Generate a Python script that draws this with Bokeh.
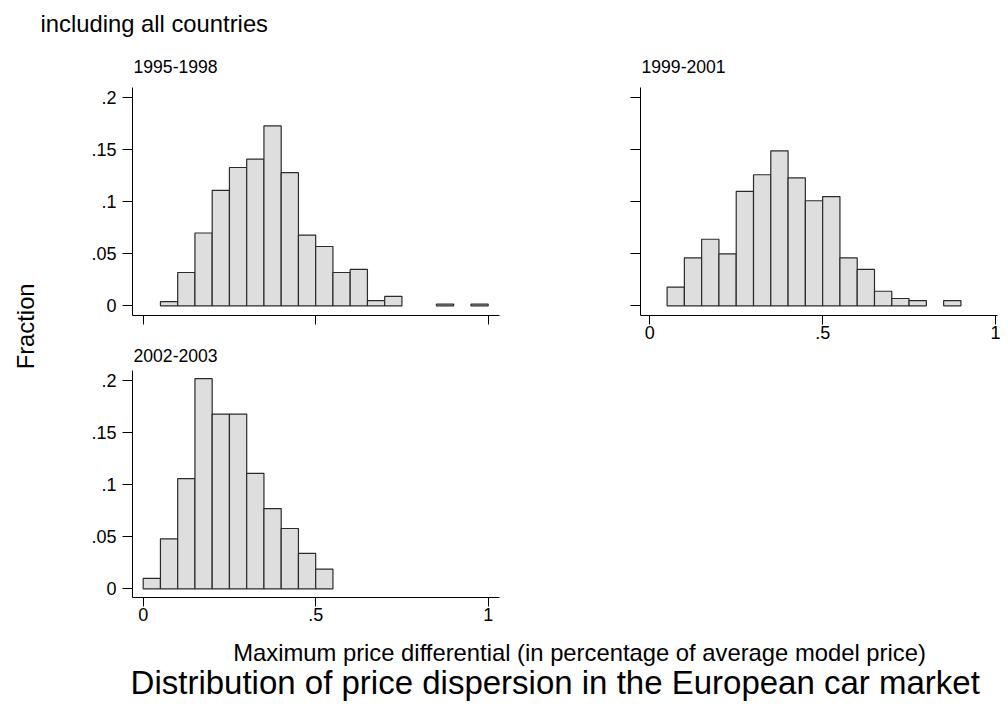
import math
from bokeh.plotting import figure
from bokeh.models import Range1d, FixedTicker, Label
from bokeh.layouts import row, column
from bokeh.embed import file_html
from bokeh.resources import INLINE

FONT = "Liberation Sans"

# ---------------- data ----------------
bin_width = 0.05

p1_title = "1995-1998"
p1_bin_start = [0.05, 0.10, 0.15, 0.20, 0.25, 0.30, 0.35, 0.40, 0.45, 0.50,
                0.55, 0.60, 0.65, 0.70, 0.75, 0.80, 0.85, 0.90, 0.95]
p1_fraction = [0.004, 0.032, 0.070, 0.111, 0.133, 0.141, 0.173, 0.128, 0.068, 0.057,
               0.032, 0.035, 0.005, 0.009, 0.0, 0.0, 0.0016, 0.0, 0.0016]

p2_title = "1999-2001"
p2_bin_start = [0.05, 0.10, 0.15, 0.20, 0.25, 0.30, 0.35, 0.40, 0.45, 0.50,
                0.55, 0.60, 0.65, 0.70, 0.75, 0.80, 0.85]
p2_fraction = [0.018, 0.046, 0.064, 0.050, 0.110, 0.126, 0.149, 0.123, 0.101, 0.105,
               0.046, 0.035, 0.014, 0.007, 0.005, 0.0, 0.005]

p3_title = "2002-2003"
p3_bin_start = [0.00, 0.05, 0.10, 0.15, 0.20, 0.25, 0.30, 0.35, 0.40, 0.45, 0.50]
p3_fraction = [0.010, 0.048, 0.106, 0.202, 0.168, 0.168, 0.111, 0.077, 0.058, 0.034, 0.019]

y_ticks = [0, 0.05, 0.1, 0.15, 0.2]
y_tick_labels = ["0", ".05", ".1", ".15", ".2"]
x_ticks = [0, 0.5, 1]
x_tick_labels = ["0", ".5", "1"]

subtitle = "including all countries"
y_title = "Fraction"
x_title = "Maximum price differential (in percentage of average model price)"
main_title = "Distribution of price dispersion in the European car market"

# ---------------- styling ----------------
BAR_FILL = "#dedede"
BAR_LINE = "#2b2b2b"
TICK_FS = "18px"
PANEL_FS = 17.6
MID_FS = 23.8
BIG_FS = 33.0
MID_OFF = 0.345  # distance (in em) from the text middle down to its baseline


def style_axis(ax, ticks, labels, tick_out, standoff, show_labels):
    ax.ticker = FixedTicker(ticks=ticks)
    if show_labels:
        ax.major_label_overrides = dict(zip(ticks, labels))
        ax.major_label_text_font_size = TICK_FS
    else:
        ax.major_label_overrides = {t: "" for t in ticks}
        ax.major_label_text_font_size = "1px"
    ax.axis_line_color = "black"
    ax.axis_line_width = 1
    ax.major_tick_line_color = "black"
    ax.major_tick_line_width = 1
    ax.major_tick_out = tick_out
    ax.major_tick_in = 0
    ax.minor_tick_line_color = None
    ax.major_label_text_font = FONT
    ax.major_label_text_color = "black"
    ax.major_label_standoff = standoff


def panel(starts, fracs, width, height, borders, xr, yr, show_x, show_y, title=None):
    p = figure(width=width, height=height,
               x_range=Range1d(*xr), y_range=Range1d(*yr),
               toolbar_location=None, output_backend="svg",
               min_border_left=borders[0], min_border_right=borders[1],
               min_border_top=borders[2], min_border_bottom=borders[3])
    p.outline_line_color = None
    p.grid.visible = False
    p.background_fill_color = "white"
    p.border_fill_color = "white"
    if title:
        p.title.text = title
        p.title.align = "left"
        p.title.offset = 1
        p.title.standoff = 18
        p.title.text_font = FONT
        p.title.text_font_size = f"{PANEL_FS}px"
        p.title.text_font_style = "normal"
        p.title.text_color = "black"

    keep = [i for i, f in enumerate(fracs) if f > 0]
    left = [starts[i] for i in keep]
    right = [starts[i] + bin_width for i in keep]
    top = [fracs[i] for i in keep]
    p.quad(left=left, right=right, bottom=0, top=top,
           fill_color=BAR_FILL, line_color=BAR_LINE, line_width=1.2)

    style_axis(p.xaxis[0], x_ticks, x_tick_labels, 9, 1, show_x)
    style_axis(p.yaxis[0], y_ticks, y_tick_labels, 10, 6, show_y)
    return p


def strip(w, h):
    s = figure(width=w, height=h, x_range=Range1d(0, w), y_range=Range1d(h, 0),
               toolbar_location=None, output_backend="svg", min_border=0,
               x_axis_type=None, y_axis_type=None)
    s.outline_line_color = None
    s.background_fill_color = "white"
    s.border_fill_color = "white"
    return s


def put_text(s, x, baseline, text, size, align="left", angle=0.0):
    # the label is anchored at the middle of its text box
    if angle:
        xx, yy = x - MID_OFF * size, baseline
    else:
        xx, yy = x, baseline - MID_OFF * size
    s.add_layout(Label(x=xx, y=yy, text=text, angle=angle,
                       text_font=FONT, text_font_size=f"{size}px", text_color="black",
                       text_align=align, text_baseline="middle"))


# ---------------- panels ----------------
p1 = panel(p1_bin_start, p1_fraction, 470, 246, (82, 21, 7, 11),
           (-0.031, 1.0328), (-0.00933, 0.2099), False, True)
p2 = panel(p2_bin_start, p2_fraction, 488, 276, (120, 11, 7, 41),
           (-0.0269, 1.0058), (-0.00933, 0.2099), True, False)
p3 = panel(p3_bin_start, p3_fraction, 470, 309, (82, 21, 44, 38),
           (-0.031, 1.0328), (-0.00837, 0.2099), True, True, title=p3_title)

# ---------------- text strips ----------------
top = strip(1008, 80)
put_text(top, 40, 31.7, subtitle, MID_FS)
put_text(top, 133, 72, p1_title, PANEL_FS)
put_text(top, 641, 72, p2_title, PANEL_FS)

left = strip(50, 555)
put_text(left, 33, 261.5, y_title, MID_FS, align="center", angle=math.pi / 2)

bottom = strip(1008, 78)
put_text(bottom, 579, 25.7, x_title, MID_FS, align="center")
put_text(bottom, 554.7, 58.3, main_title, BIG_FS, align="center")

layout = column(top, row(left, column(p1, p3), p2), bottom)

open("out.html", "w").write(file_html(layout, INLINE))
